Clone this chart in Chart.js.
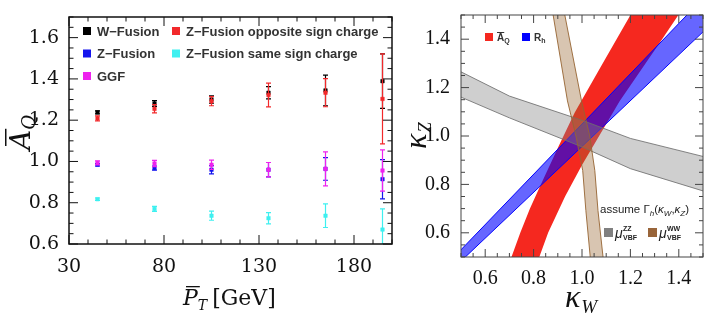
<!DOCTYPE html>
<html>
<head>
<meta charset="utf-8">
<script src="https://cdn.jsdelivr.net/npm/chart.js@4.4.1/dist/chart.umd.min.js"></script>
<style>
  html, body { margin: 0; padding: 0; background: #fff; }
  #wrap { position: relative; width: 718px; height: 325px; overflow: hidden; }
  #left { position: absolute; left: 0; top: 0; }
  #right { position: absolute; left: 400px; top: 0; }
</style>
</head>
<body>
<div id="wrap">
  <canvas id="left" width="400" height="325"></canvas>
  <canvas id="right" width="318" height="325"></canvas>
</div>
<script>
// ---- left panel: mean charge asymmetry vs mean pT ----
const ptBins = [45, 75, 105, 135, 165, 195];
const ptTicks = [30, 80, 130, 180];
const aqTicks = [0.6, 0.8, 1.0, 1.2, 1.4, 1.6];

const wFusion    = [1.238, 1.281, 1.300, 1.333, 1.344, 1.389];
const wFusionErr = [0.007, 0.014, 0.018, 0.030, 0.074, 0.132];
const zOpp       = [1.209, 1.255, 1.292, 1.322, 1.333, 1.303];
const zOppErr    = [0.012, 0.020, 0.022, 0.058, 0.068, 0.218];
const zFusion    = [0.984, 0.968, 0.960, 0.960, 0.964, 0.914];
const zFusionErr = [0.006, 0.010, 0.020, 0.035, 0.055, 0.095];
const zSame      = [0.817, 0.770, 0.737, 0.725, 0.737, 0.670];
const zSameErr   = [0.006, 0.012, 0.022, 0.027, 0.057, 0.100];
const ggf        = [0.993, 0.990, 0.984, 0.960, 0.964, 0.956];
const ggfErr     = [0.010, 0.015, 0.022, 0.035, 0.082, 0.100];

// ---- right panel: kappa_W / kappa_Z bands, edges as [kW, kZ] ----
const kTicks = [0.6, 0.8, 1.0, 1.2, 1.4];
const aqLeft  = [[0.705,0.49],[0.745,0.6],[0.785,0.7],[0.83,0.8],[0.90,0.95],[0.97,1.097],[1.08,1.29],[1.206,1.51]];
const aqRight = [[0.82,0.49],[0.86,0.6],[0.93,0.75],[1.0,0.88],[1.156,1.145],[1.331,1.40],[1.405,1.51]];
const rhUpper = [[0.45,0.478],[1.53,1.6]];
const rhLower = [[0.5,0.483],[1.6,1.525]];
const zzUpper = [[0.49,1.27],[0.7,1.165],[1.0,1.065],[1.2,0.99],[1.51,0.913]];
const zzLower = [[0.49,1.165],[0.7,1.075],[1.0,0.955],[1.2,0.865],[1.51,0.77]];
const wwLeft  = [[0.879,1.51],[0.94,1.145],[0.975,1.0],[1.003,0.857],[1.016,0.692],[1.035,0.49]];
const wwRight = [[0.927,1.51],[0.998,1.145],[1.032,1.0],[1.053,0.857],[1.066,0.692],[1.088,0.49]];

const SERIF = '"DejaVu Serif", serif';
const RSERIF = '"Liberation Serif", "Times New Roman", serif';
const SANS = '"Liberation Sans", Arial, sans-serif';

// draws a row of text pieces (sub/superscripts via dy, optional overline)
function runs(ctx, x, y, parts) {
  for (const p of parts) {
    ctx.font = p.f;
    ctx.fillText(p.t, x, y + (p.dy || 0));
    const w = ctx.measureText(p.t).width;
    if (p.bar) ctx.fillRect(x + p.bar[0], y - p.bar[1], w + p.bar[2], p.bar[3]);
    x += w + (p.sp || 0);
  }
  return x;
}

// box around the plot with inward major/minor ticks on all four sides
function framePlugin(id, o) {
  return {
    id,
    afterDraw(chart) {
      const { ctx, chartArea: a, scales: { x, y } } = chart;
      const marks = (scale, step) => {
        const n = Math.round((scale.max - scale.min) / step);
        const majors = scale.ticks.map(t => t.value);
        const out = [];
        for (let k = 0; k <= n; k++) {
          const v = scale.min + k * step;
          const big = majors.some(m => Math.abs(m - v) < step / 10);
          out.push([scale.getPixelForValue(v), big ? o.major : o.minor]);
        }
        return out;
      };
      ctx.save();
      ctx.strokeStyle = o.color;
      ctx.lineWidth = 1;
      ctx.beginPath();
      for (const [px, len] of marks(x, o.xStep)) {
        ctx.moveTo(px, a.bottom); ctx.lineTo(px, a.bottom - len);
        ctx.moveTo(px, a.top); ctx.lineTo(px, a.top + len);
      }
      for (const [py, len] of marks(y, o.yStep)) {
        ctx.moveTo(a.left, py); ctx.lineTo(a.left + len, py);
        ctx.moveTo(a.right, py); ctx.lineTo(a.right - len, py);
      }
      ctx.stroke();
      ctx.lineWidth = o.width;
      ctx.strokeRect(a.left, a.top, a.right - a.left, a.bottom - a.top);
      ctx.restore();
    }
  };
}

// vertical error bars with small caps, drawn just before each dataset's markers
const errorBars = {
  id: 'errorBars',
  beforeDatasetDraw(chart, args) {
    const ds = chart.data.datasets[args.index];
    if (!ds.errors) return;
    const { ctx, chartArea: a, scales: { x, y } } = chart;
    ctx.save();
    ctx.beginPath();
    ctx.rect(a.left, a.top, a.right - a.left, a.bottom - a.top);
    ctx.clip();
    ctx.strokeStyle = ds.borderColor;
    ctx.lineWidth = 1.2;
    ds.data.forEach((p, i) => {
      const px = x.getPixelForValue(p.x);
      const lo = y.getPixelForValue(p.y - ds.errors[i]);
      const hi = y.getPixelForValue(p.y + ds.errors[i]);
      ctx.beginPath();
      ctx.moveTo(px, lo); ctx.lineTo(px, hi);
      ctx.moveTo(px - 2.5, lo); ctx.lineTo(px + 2.5, lo);
      ctx.moveTo(px - 2.5, hi); ctx.lineTo(px + 2.5, hi);
      ctx.stroke();
    });
    ctx.restore();
  }
};

// top-down drawing order: first entry ends up on top
const series = [
  { label: 'Z−Fusion opposite sign charge', y: zOpp, err: zOppErr, color: '#f2292b' },
  { label: 'W−Fusion', y: wFusion, err: wFusionErr, color: '#000000' },
  { label: 'GGF', y: ggf, err: ggfErr, color: '#ee22ee' },
  { label: 'Z−Fusion', y: zFusion, err: zFusionErr, color: '#1414ee' },
  { label: 'Z−Fusion same sign charge', y: zSame, err: zSameErr, color: '#3ff0f0' }
];

// legend layout: two columns, three rows
const legendLeft = [
  ['W−Fusion', '#000000'], ['Z−Fusion opposite sign charge', '#f2292b'],
  ['Z−Fusion', '#1414ee'], ['Z−Fusion same sign charge', '#3ff0f0'],
  ['GGF', '#ee22ee']
];

const leftText = {
  id: 'leftText',
  afterDraw(chart) {
    const ctx = chart.ctx;
    ctx.save();
    ctx.textBaseline = 'alphabetic';
    legendLeft.forEach(([label, color], i) => {
      const col = i % 2, row = Math.floor(i / 2);
      const sx = col ? 172 : 83, sy = 27 + row * 22.5;
      ctx.fillStyle = color;
      ctx.fillRect(sx, sy, 8, 8);
      ctx.fillStyle = '#333';
      ctx.font = 'bold 13px ' + SANS;
      ctx.fillText(label, sx + 14, sy + 8.5);
    });
    ctx.fillStyle = '#111';
    // x title
    runs(ctx, 183, 305, [
      { t: 'P', f: 'italic 22px ' + SERIF, bar: [3, 19, -1, 1.3] },
      { t: 'T', f: 'italic 14px ' + SERIF, dy: 5, sp: 5 },
      { t: '[GeV]', f: '22px ' + SERIF }
    ]);
    // y title, rotated
    ctx.translate(30, 150);
    ctx.rotate(-Math.PI / 2);
    runs(ctx, 0, 0, [
      { t: 'A', f: 'italic 28px ' + SERIF, bar: [4, 25, -3, 1.5] },
      { t: 'Q', f: 'italic 18px ' + SERIF, dy: 5 }
    ]);
    ctx.restore();
  }
};

new Chart(document.getElementById('left'), {
  type: 'scatter',
  data: {
    datasets: series.map(s => ({
      label: s.label,
      data: ptBins.map((x, i) => ({ x, y: s.y[i] })),
      errors: s.err,
      pointStyle: 'rect',
      pointRadius: 2.5,
      borderWidth: 0.5,
      backgroundColor: s.color,
      borderColor: s.color
    }))
  },
  options: {
    responsive: false,
    animation: false,
    devicePixelRatio: 1,
    events: [],
    layout: { padding: { left: 0, right: 8, top: 17, bottom: 0 } },
    scales: {
      x: {
        type: 'linear', min: 30, max: 200,
        afterBuildTicks: s => { s.ticks = ptTicks.map(v => ({ value: v })); },
        afterFit: s => { s.height = 81; },
        grid: { display: false }, border: { display: false },
        ticks: { font: { family: SERIF, size: 19 }, color: '#111', padding: 4, maxRotation: 0 }
      },
      y: {
        min: 0.6, max: 1.7,
        afterBuildTicks: s => { s.ticks = aqTicks.map(v => ({ value: v })); },
        afterFit: s => { s.width = 69; },
        grid: { display: false }, border: { display: false },
        ticks: { font: { family: SERIF, size: 19 }, color: '#111', padding: 2, callback: v => v.toFixed(1) }
      }
    },
    plugins: { legend: { display: false }, tooltip: { enabled: false } }
  },
  plugins: [errorBars, framePlugin('leftFrame', { color: '#111', width: 1.5, xStep: 10, yStep: 0.05, major: 9, minor: 4.5 }), leftText]
});

// ---- right panel ----
const ring = (a, b) => a.concat(b.slice().reverse(), [a[0]]).map(p => ({ x: p[0], y: p[1] }));

const band = (label, pts, fill, line, lw) => ({
  label, data: pts, fill: 'shape',
  backgroundColor: fill, borderColor: line, borderWidth: lw,
  pointRadius: 0, pointHoverRadius: 0, tension: 0
});

const rightText = {
  id: 'rightText',
  afterDraw(chart) {
    const ctx = chart.ctx;
    ctx.save();
    // A_Q / R_h legend
    ctx.fillStyle = '#f5281f'; ctx.fillRect(85, 33, 8, 8);
    ctx.fillStyle = '#0000ff'; ctx.fillRect(122, 33, 8, 8);
    ctx.fillStyle = '#333';
    runs(ctx, 97, 41, [
      { t: 'A', f: 'bold 10px ' + SANS, bar: [0, 9, 0, 1] },
      { t: 'Q', f: 'bold 7px ' + SANS, dy: 2 }
    ]);
    runs(ctx, 134, 41, [
      { t: 'R', f: 'bold 10px ' + SANS },
      { t: 'h', f: 'bold 7px ' + SANS, dy: 2 }
    ]);
    // coupling-width note and VBF legend
    ctx.fillStyle = '#222';
    runs(ctx, 200, 213, [
      { t: 'assume Γ', f: '11.5px ' + SANS },
      { t: 'h', f: 'italic 8px ' + SANS, dy: 2.5 },
      { t: '(', f: '11.5px ' + SANS },
      { t: 'κ', f: 'italic 11.5px ' + SANS },
      { t: 'W', f: 'italic 8px ' + SANS, dy: 2.5 },
      { t: ',', f: '11.5px ' + SANS },
      { t: 'κ', f: 'italic 11.5px ' + SANS },
      { t: 'Z', f: 'italic 8px ' + SANS, dy: 2.5 },
      { t: ')', f: '11.5px ' + SANS }
    ]);
    const vbf = (sx, color, sup) => {
      ctx.fillStyle = color; ctx.fillRect(sx, 228, 9, 9);
      ctx.fillStyle = '#222';
      ctx.font = 'italic 14px ' + SANS;
      ctx.fillText('μ', sx + 11, 238);
      ctx.font = 'bold 7px ' + SANS;
      ctx.fillText(sup, sx + 19, 231);
      ctx.fillText('VBF', sx + 19, 239.5);
    };
    vbf(204, '#808080', 'ZZ');
    vbf(248, '#99653a', 'WW');
    // axis titles
    ctx.fillStyle = '#111';
    runs(ctx, 165, 307, [
      { t: 'κ', f: 'italic 32px ' + RSERIF, sp: 1 },
      { t: 'W', f: 'italic 19px ' + RSERIF, dy: 6 }
    ]);
    ctx.translate(26, 149);
    ctx.rotate(-Math.PI / 2);
    runs(ctx, 0, 0, [
      { t: 'κ', f: 'italic 32px ' + RSERIF, sp: 1 },
      { t: 'Z', f: 'italic 19px ' + RSERIF, dy: 5 }
    ]);
    ctx.restore();
  }
};

new Chart(document.getElementById('right'), {
  type: 'line',
  data: {
    datasets: [
      band('μVBF WW', ring(wwLeft, wwRight), 'rgba(153,102,51,0.38)', 'rgba(150,100,50,0.9)', 1),
      band('μVBF ZZ', ring(zzUpper, zzLower), 'rgba(128,128,128,0.38)', 'rgba(110,110,110,0.85)', 1),
      band('R_h', ring(rhUpper, rhLower), 'rgba(0,0,255,0.6)', '#0000ff', 1),
      band('A_Q', ring(aqLeft, aqRight), '#f5281f', '#f5281f', 0)
    ]
  },
  options: {
    responsive: false,
    animation: false,
    devicePixelRatio: 1,
    events: [],
    layout: { padding: { left: 0, right: 15, top: 14, bottom: 0 } },
    scales: {
      x: {
        type: 'linear', min: 0.5, max: 1.5,
        afterBuildTicks: s => { s.ticks = kTicks.map(v => ({ value: v })); },
        afterFit: s => { s.height = 68; },
        grid: { display: false }, border: { display: false },
        ticks: { font: { family: RSERIF, size: 20 }, color: '#111', padding: 2, maxRotation: 0, callback: v => v.toFixed(1) }
      },
      y: {
        type: 'linear', min: 0.5, max: 1.5,
        afterBuildTicks: s => { s.ticks = kTicks.map(v => ({ value: v })); },
        afterFit: s => { s.width = 61; },
        grid: { display: false }, border: { display: false },
        ticks: { font: { family: RSERIF, size: 20 }, color: '#111', padding: 3, callback: v => v.toFixed(1) }
      }
    },
    plugins: { legend: { display: false }, tooltip: { enabled: false }, filler: { propagate: false } }
  },
  plugins: [framePlugin('rightFrame', { color: '#444', width: 1, xStep: 0.05, yStep: 0.05, major: 8, minor: 4 }), rightText]
});
</script>
</body>
</html>
